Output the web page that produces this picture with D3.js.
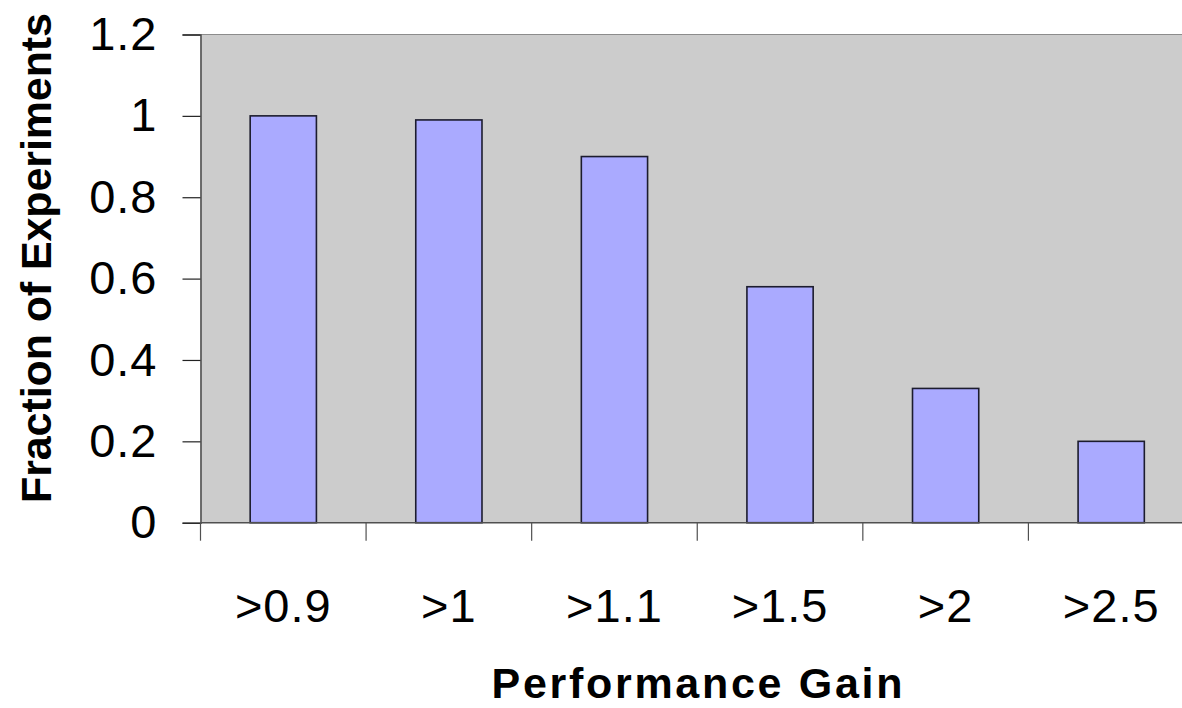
<!DOCTYPE html>
<html>
<head>
<meta charset="utf-8">
<script src="https://cdn.jsdelivr.net/npm/d3@7"></script>
<style>
  html, body { margin: 0; padding: 0; background: #ffffff; }
  svg { display: block; }
  text { font-family: "Liberation Sans", Arial, sans-serif; fill: #000; }
</style>
</head>
<body>
<svg id="chart" width="1182" height="708"></svg>
<script>
// Categories (performance-gain thresholds) and the fraction of experiments above each
const categories = [">0.9", ">1", ">1.1", ">1.5", ">2", ">2.5"];
const fractions = [1.0, 0.99, 0.9, 0.58, 0.33, 0.2];
const yTicks = [0, 0.2, 0.4, 0.6, 0.8, 1, 1.2];
const yTickLabels = ["0", "0.2", "0.4", "0.6", "0.8", "1", "1.2"];

const svg = d3.select("#chart");

// Plot area (the right part runs past the window edge)
const plot = { left: 200.5, right: 1194, top: 34.5, bottom: 522.7 };

const x = d3.scaleBand()
  .domain(categories)
  .range([plot.left, plot.right])
  .paddingInner(0.6)
  .paddingOuter(0.3);

const y = d3.scaleLinear()
  .domain([0, 1.2])
  .range([plot.bottom, plot.top]);

// Grey plot background
svg.append("rect")
  .attr("x", plot.left)
  .attr("y", plot.top)
  .attr("width", plot.right - plot.left)
  .attr("height", plot.bottom - plot.top)
  .attr("fill", "#cccccc");

// Top border of the plot area
svg.append("line")
  .attr("x1", plot.left).attr("x2", plot.right)
  .attr("y1", plot.top).attr("y2", plot.top)
  .attr("stroke", "#8c8c8c").attr("stroke-width", 1.2);

// Bars
svg.append("g")
  .selectAll("rect")
  .data(categories)
  .join("rect")
  .attr("x", d => x(d))
  .attr("y", (d, i) => y(fractions[i]))
  .attr("width", x.bandwidth())
  .attr("height", (d, i) => y(0) - y(fractions[i]))
  .attr("fill", "#aaaaff")
  .attr("stroke", "#1c1c2e")
  .attr("stroke-width", 1.6);

// Y axis
const yAxis = d3.axisLeft(y)
  .tickValues(yTicks)
  .tickFormat((d, i) => yTickLabels[i])
  .tickSize(18)
  .tickPadding(25);

const gy = svg.append("g")
  .attr("transform", `translate(${plot.left},0)`)
  .call(yAxis);
gy.select(".domain").attr("stroke", "#505050").attr("stroke-width", 1.6);
gy.selectAll(".tick line").attr("stroke", "#222").attr("stroke-width", 1.2);
gy.selectAll(".tick text")
  .attr("font-size", 47)
  .attr("letter-spacing", 1)
  .attr("font-family", "Liberation Sans, Arial, sans-serif")
  .attr("fill", "#000");

// X axis: baseline, boundary ticks between categories, and category labels
const xAxis = d3.axisBottom(x).tickSize(0).tickPadding(0);
const gx = svg.append("g")
  .attr("transform", `translate(0,${plot.bottom})`)
  .call(xAxis);
gx.select(".domain").remove();
gx.selectAll(".tick text")
  .attr("y", 99)
  .attr("dy", 0)
  .attr("font-size", 47)
  .attr("letter-spacing", 1)
  .attr("font-family", "Liberation Sans, Arial, sans-serif")
  .attr("fill", "#000");

svg.append("line")
  .attr("x1", plot.left).attr("x2", plot.right)
  .attr("y1", plot.bottom).attr("y2", plot.bottom)
  .attr("stroke", "#505050").attr("stroke-width", 1.6);

const boundaries = categories.map(c => x(c) - x.step() * x.paddingInner() / 2)
  .concat([plot.right]);
svg.append("g")
  .selectAll("line")
  .data(boundaries)
  .join("line")
  .attr("x1", d => d).attr("x2", d => d)
  .attr("y1", plot.bottom).attr("y2", plot.bottom + 18)
  .attr("stroke", "#505050").attr("stroke-width", 1.2);

// Axis titles
svg.append("text")
  .attr("transform", `translate(51,258) rotate(-90)`)
  .attr("text-anchor", "middle")
  .attr("font-size", 43)
  .attr("font-weight", "bold")
  .attr("textLength", 490)
  .attr("lengthAdjust", "spacing")
  .text("Fraction of Experiments");

svg.append("text")
  .attr("x", 697)
  .attr("y", 698)
  .attr("text-anchor", "middle")
  .attr("font-size", 43)
  .attr("font-weight", "bold")
  .attr("textLength", 411)
  .attr("lengthAdjust", "spacing")
  .text("Performance Gain");
</script>
</body>
</html>
